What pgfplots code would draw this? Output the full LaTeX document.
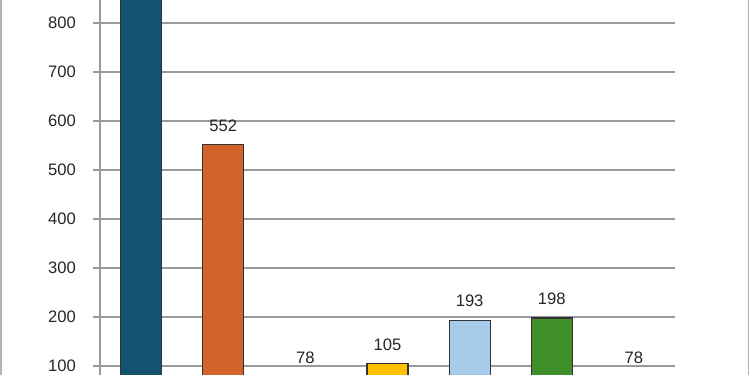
\documentclass[border=0pt]{standalone}
\usepackage{pgfplots}
\pgfplotsset{compat=1.18}
\usepackage{fontspec}
\setmainfont{Liberation Sans}
\definecolor{c1}{HTML}{14536F}
\definecolor{c2}{HTML}{D2632B}
\definecolor{c3}{HTML}{7F7F7F}
\definecolor{c4}{HTML}{FFC000}
\definecolor{c5}{HTML}{A9CBEB}
\definecolor{c6}{HTML}{3F8F2A}
\definecolor{c7}{HTML}{264478}
\definecolor{gridc}{HTML}{9A9A9A}
\definecolor{borderc}{HTML}{B4B4B4}
\begin{document}
\begin{tikzpicture}[x=0.5pt,y=0.5pt]
\useasboundingbox (0,0) rectangle (750,375);
\begin{scope}
\clip (0,0) rectangle (750,375);
\begin{axis}[
  at={(50pt,-19.99pt)}, anchor=south west,
  scale only axis, width=287.5pt, height=207.49pt,
  xmin=-0.5, xmax=6.5, ymin=0, ymax=846.9,
  axis x line=none,
  axis y line*=left,
  y axis line style={gridc, line width=0.75pt, -},
  ytick={100,200,...,800},
  ymajorgrids,
  grid style={gridc, line width=0.9pt},
  major tick length=3.5pt,
  tick align=outside,
  y tick style={gridc, line width=0.75pt},
  /pgf/number format/assume math mode=true,
  yticklabel style={font=\fontsize{8.3}{10}\selectfont, text=black!85, xshift=-5pt},
  ybar, bar width=20.5pt, bar shift=0pt,
  every node near coord/.append style={font=\fontsize{8.3}{10}\selectfont, text=black!85, yshift=3pt},
  clip=false,
]
\addplot[fill=c1, draw=black!80, line width=0.6pt] coordinates {(0,900)};
\addplot[fill=c2, draw=black!80, line width=0.6pt, nodes near coords] coordinates {(1,552)};
\addplot[fill=c3, draw=black!80, line width=0.6pt, nodes near coords] coordinates {(2,78)};
\addplot[fill=c4, draw=black!80, line width=0.6pt, nodes near coords] coordinates {(3,105)};
\addplot[fill=c5, draw=black!80, line width=0.6pt, nodes near coords] coordinates {(4,193)};
\addplot[fill=c6, draw=black!80, line width=0.6pt, nodes near coords] coordinates {(5,198)};
\addplot[fill=c7, draw=black!80, line width=0.6pt, nodes near coords] coordinates {(6,78)};
\end{axis}
\draw[borderc, line width=0.75pt] (0.75,0) -- (0.75,375);
\draw[borderc, line width=0.75pt] (748.5,0) -- (748.5,375);
\end{scope}
\end{tikzpicture}
\end{document}
